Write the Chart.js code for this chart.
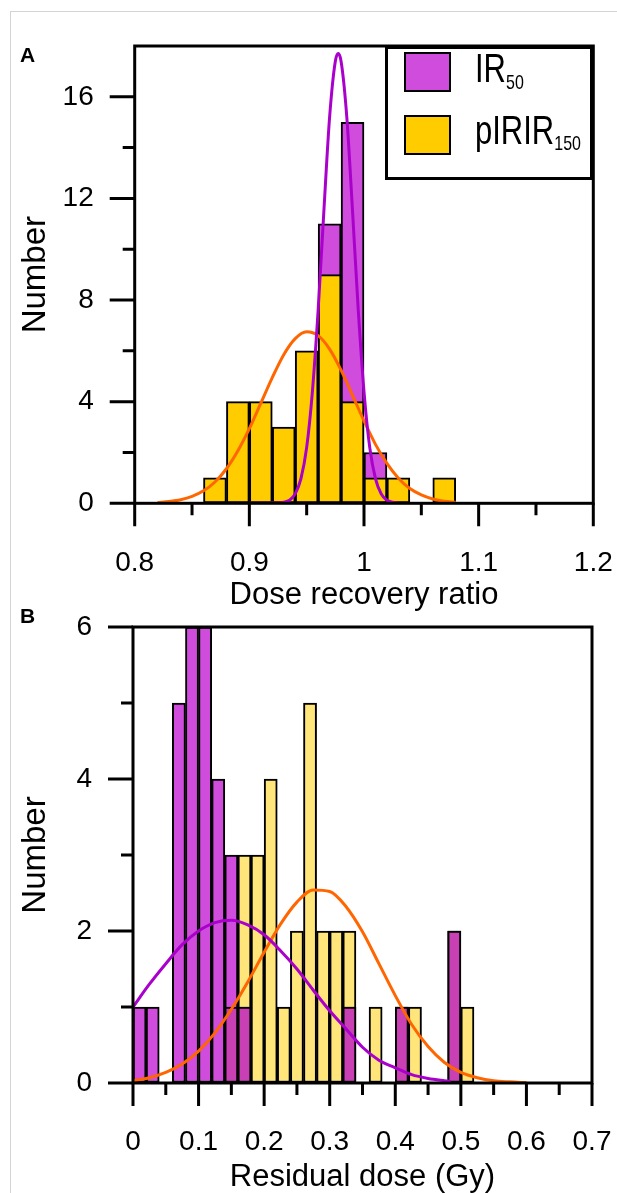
<!DOCTYPE html>
<html>
<head>
<meta charset="utf-8">
<script src="https://cdn.jsdelivr.net/npm/chart.js@4.4.1/dist/chart.umd.min.js"></script>
<style>
body { margin: 0; background: #fff; }
#wrap { position: relative; width: 617px; height: 1193px; overflow: hidden; font-family: "Liberation Sans", Arial, sans-serif; }
.edge { position: absolute; left: 10px; top: 11px; width: 800px; height: 1400px; border-top: 1px solid #d4d4d4; border-left: 1px solid #d4d4d4; }
.panel { position: absolute; left: 0; width: 617px; }
.tag { position: absolute; left: 20px; font-weight: bold; font-size: 21px; line-height: 21px; }
#legend { position: absolute; left: 385px; top: 46px; width: 208px; height: 134px; box-sizing: border-box; border: 3px solid #000; background: #fff; }
#legend .sw { position: absolute; left: 16px; width: 47px; height: 40px; box-sizing: border-box; border: 2px solid #000; }
#legend .lab { position: absolute; left: 87px; font-size: 31px; line-height: 31px; white-space: nowrap; transform: scaleY(1.3); transform-origin: 0 26px; }
#legend sub { font-size: 16px; vertical-align: -5px; line-height: 0; }
</style>
</head>
<body>
<div id="wrap">
  <div class="edge"></div>
  <div class="panel" style="top:0;height:612px"><canvas id="chartA"></canvas></div>
  <div class="panel" style="top:600px;height:593px"><canvas id="chartB"></canvas></div>
  <div class="tag" style="top:44px">A</div>
  <div class="tag" style="top:605px">B</div>
  <div id="legend">
    <div class="sw" style="top:3px;background:#d04cdc"></div>
    <div class="sw" style="top:66px;background:#ffcc00"></div>
    <div class="lab" style="top:7px">IR<sub>50</sub></div>
    <div class="lab" style="top:69px">pIRIR<sub>150</sub></div>
  </div>
</div>
<script>
// ---- panel A: dose recovery ratio (bins 0.02 wide, left edges) ----
const binsA = [0.86, 0.88, 0.90, 0.92, 0.94, 0.96, 0.98, 1.00, 1.02, 1.04, 1.06];
const ir50A = [0, 0, 0, 0, 0, 11, 15, 2, 0, 0, 0];
const pirA  = [1, 4, 4, 3, 6, 9, 4, 1, 1, 0, 1];

// fitted curves
const irFitXA = [0.900, 0.910, 0.920, 0.925, 0.930, 0.935, 0.940, 0.945, 0.950, 0.955, 0.960, 0.965, 0.970, 0.975, 0.9775, 0.980, 0.985, 0.990, 0.995, 1.000, 1.005, 1.010, 1.015, 1.020, 1.025, 1.030];
const irFitYA = [0, 0, 0.01, 0.01, 0.04, 0.12, 0.37, 0.97, 2.2, 4.4, 7.6, 11.5, 15.2, 17.4, 17.7, 17.4, 15.2, 11.5, 7.6, 4.4, 2.2, 0.97, 0.37, 0.12, 0.04, 0.01];
const pirFitXA = [0.82, 0.83, 0.84, 0.85, 0.86, 0.87, 0.88, 0.89, 0.90, 0.91, 0.92, 0.93, 0.94, 0.95, 0.96, 0.97, 0.98, 0.99, 1.00, 1.01, 1.02, 1.03, 1.04, 1.05, 1.06, 1.07, 1.08];
const pirFitYA = [0.03, 0.07, 0.14, 0.27, 0.49, 0.84, 1.36, 2.07, 2.94, 3.94, 4.95, 5.85, 6.48, 6.75, 6.6, 6.07, 5.24, 4.25, 3.24, 2.32, 1.57, 0.99, 0.58, 0.33, 0.17, 0.08, 0.04];

// ---- panel B: residual dose (Gy), bins 0.02 wide ----
const binsB = [0, 0.02, 0.04, 0.06, 0.08, 0.10, 0.12, 0.14, 0.16, 0.18, 0.20, 0.22, 0.24, 0.26, 0.28, 0.30, 0.32, 0.34, 0.36, 0.38, 0.40, 0.42, 0.44, 0.46, 0.48, 0.50];
const ir50B = [1, 1, 0, 5, 6, 6, 4, 3, 1, 0, 0, 0, 0, 0, 0, 0, 1, 0, 0, 0, 1, 0, 0, 0, 2, 0];
const pirB  = [0, 0, 0, 0, 0, 0, 0, 1, 3, 3, 4, 1, 2, 5, 2, 2, 2, 0, 1, 0, 1, 1, 0, 0, 2, 1];

const irFitXB = [0, 0.025, 0.05, 0.075, 0.1, 0.125, 0.15, 0.175, 0.2, 0.225, 0.25, 0.275, 0.3, 0.325, 0.35, 0.375, 0.4, 0.425, 0.45, 0.475, 0.485];
const irFitYB = [1.0, 1.3, 1.57, 1.82, 2.0, 2.11, 2.14, 2.08, 1.95, 1.74, 1.5, 1.22, 0.95, 0.71, 0.47, 0.3, 0.2, 0.11, 0.06, 0.03, 0.02];
const pirFitXB = [0, 0.025, 0.05, 0.075, 0.1, 0.125, 0.15, 0.175, 0.2, 0.225, 0.25, 0.275, 0.3, 0.325, 0.35, 0.375, 0.4, 0.425, 0.45, 0.475, 0.5, 0.525, 0.55, 0.575, 0.6];
const pirFitYB = [0.03, 0.07, 0.14, 0.25, 0.42, 0.66, 0.97, 1.33, 1.72, 2.09, 2.38, 2.54, 2.52, 2.32, 1.99, 1.57, 1.15, 0.77, 0.48, 0.27, 0.14, 0.07, 0.03, 0.015, 0.005];

const BIN = 0.02;
Chart.defaults.font.family = "'Liberation Sans', Arial, sans-serif";
Chart.defaults.color = '#000';

function bars(bins, counts) {
  return bins.map((b, i) => ({ x: b + BIN / 2, y: counts[i] })).filter(p => p.y > 0);
}
function curve(xs, ys) {
  return xs.map((x, i) => ({ x: x, y: ys[i] }));
}
function barSet(label, data, color, order) {
  return { type: 'bar', label: label, data: data, backgroundColor: color, borderColor: '#000', borderWidth: 2,
    borderSkipped: false, grouped: false, barPercentage: 1, categoryPercentage: 1, order: order };
}
function lineSet(label, data, color) {
  return { type: 'line', label: label, data: data, borderColor: color, borderWidth: 3, pointRadius: 0,
    fill: false, cubicInterpolationMode: 'monotone', order: 0 };
}

// frame box + major/minor tick marks of two lengths
const frameTicks = {
  id: 'frameTicks',
  afterDatasetsDraw(chart, args, o) {
    const { ctx, chartArea: a, scales } = chart;
    const x = scales.x, y = scales.y;
    ctx.save();
    ctx.strokeStyle = '#000';
    ctx.lineWidth = 3;
    ctx.strokeRect(a.left, a.top, a.right - a.left, a.bottom - a.top);
    ctx.beginPath();
    const isMajor = (v, m) => Math.abs(v / m - Math.round(v / m)) < 1e-6;
    for (let k = 0; o.x.min + k * o.x.step <= o.x.max + 1e-9; k++) {
      const v = o.x.min + k * o.x.step;
      const px = x.getPixelForValue(v);
      ctx.moveTo(px, a.bottom);
      ctx.lineTo(px, a.bottom + (isMajor(v, o.x.major) ? 23 : 12));
    }
    for (let k = 0; o.y.min + k * o.y.step <= o.y.max + 1e-9; k++) {
      const v = o.y.min + k * o.y.step;
      const py = y.getPixelForValue(v);
      ctx.moveTo(a.left, py);
      ctx.lineTo(a.left - (isMajor(v, o.y.major) ? 25 : 12), py);
    }
    ctx.stroke();
    ctx.restore();
  }
};

// invisible native ticks only push the labels away from the axis
const hiddenTicks = len => ({ display: true, drawOnChartArea: false, drawTicks: true, tickLength: len, tickColor: 'rgba(0,0,0,0)' });

function makeChart(id, datasets, sc) {
  return new Chart(document.getElementById(id), {
    type: 'bar',
    data: { datasets: datasets },
    plugins: [frameTicks],
    options: {
      responsive: true,
      maintainAspectRatio: false,
      animation: false,
      devicePixelRatio: 1,
      layout: { padding: { left: 0, top: sc.top, right: sc.right, bottom: 0 } },
      plugins: {
        legend: { display: false },
        tooltip: { enabled: false },
        frameTicks: sc.marks
      },
      scales: {
        x: {
          type: 'linear', min: sc.xMin, max: sc.xMax, offset: false,
          grid: hiddenTicks(sc.xGap),
          border: { display: false },
          ticks: { stepSize: 0.1, autoSkip: false, maxRotation: 0, padding: 0,
            font: { size: 28 }, callback: v => String(Math.round(v * 100) / 100) },
          title: { display: true, text: sc.xTitle, font: { size: 31, lineHeight: 1 }, padding: { top: 0, bottom: sc.xTitlePad } },
          afterFit: s => { s.height = sc.xHeight; }
        },
        y: {
          min: 0, max: sc.yMax,
          grid: hiddenTicks(41),
          border: { display: false },
          ticks: { stepSize: sc.yStep, padding: 0, font: { size: 28 },
            callback: v => (v % sc.yStep === 0 ? String(v) : '') },
          title: { display: true, text: 'Number', font: { size: 33, lineHeight: 1 }, padding: { top: 19, bottom: 0 } },
          afterFit: s => { s.width = sc.yWidth; }
        }
      }
    }
  });
}

makeChart('chartA', [
  lineSet('IR50 fit', curve(irFitXA, irFitYA), '#aa00cc'),
  lineSet('pIRIR150 fit', curve(pirFitXA, pirFitYA), '#ff6600'),
  barSet('pIRIR150', bars(binsA, pirA), '#ffcc00', 1),
  barSet('IR50', bars(binsA, ir50A), '#d04cdc', 2)
], {
  top: 46, right: 23.7, xMin: 0.8, xMax: 1.2, xGap: 43, xHeight: 108.7, xTitle: 'Dose recovery ratio', xTitlePad: 1,
  yMax: 18, yStep: 4, yWidth: 134.7,
  marks: { x: { min: 0.8, max: 1.2, step: 0.05, major: 0.1 }, y: { min: 0, max: 16, step: 2, major: 4 } }
});

const overlapB = ir50B.map((v, i) => Math.min(v, pirB[i]));
makeChart('chartB', [
  lineSet('IR50 fit', curve(irFitXB, irFitYB), '#aa00cc'),
  lineSet('pIRIR150 fit', curve(pirFitXB, pirFitYB), '#ff6600'),
  barSet('both', bars(binsB, overlapB), '#c840b4', 1),
  barSet('IR50', bars(binsB, ir50B), '#d04cdc', 2),
  barSet('pIRIR150', bars(binsB, pirB), '#ffe57a', 3)
], {
  top: 27, right: 25, xMin: 0, xMax: 0.7, xGap: 42, xHeight: 110, xTitle: 'Residual dose (Gy)', xTitlePad: 0,
  yMax: 6, yStep: 2, yWidth: 133,
  marks: { x: { min: 0, max: 0.7, step: 0.05, major: 0.1 }, y: { min: 0, max: 6, step: 1, major: 2 } }
});
</script>
</body>
</html>
